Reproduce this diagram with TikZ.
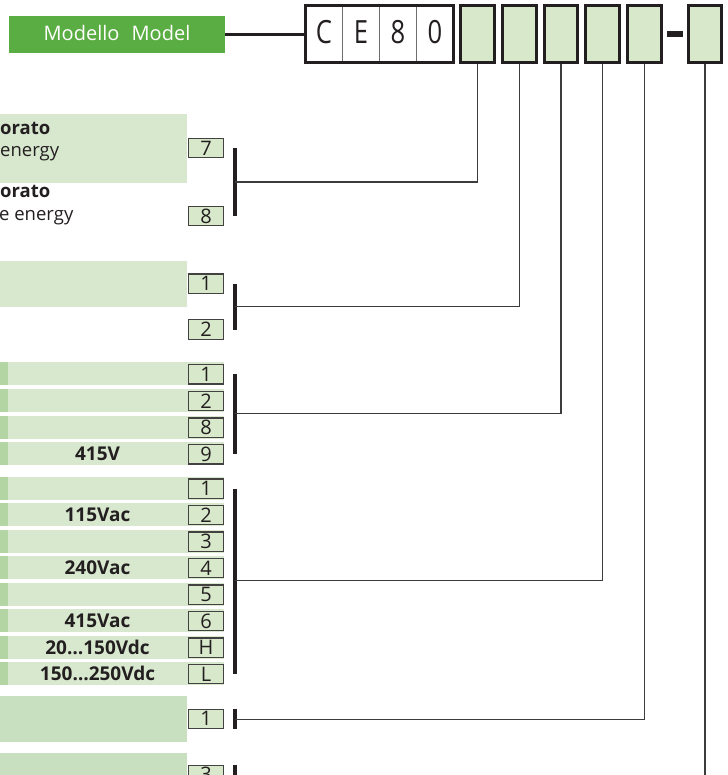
\documentclass[tikz,border=0pt]{standalone}
\usepackage{fontspec}
\setmainfont{Open Sans}
\newfontfamily\medfont{Open Sans}
\newfontfamily\codefont[FakeStretch=0.8]{Open Sans}
\definecolor{bandgreen}{HTML}{D8E8CF}
\definecolor{stripgreen}{HTML}{B3D5A4}
\definecolor{bandgreenB}{HTML}{C8E0C0}
\definecolor{boxgreen}{HTML}{D7E8CB}
\definecolor{modelgreen}{HTML}{5AAD42}
\definecolor{ink}{HTML}{231F20}
\definecolor{linegray}{HTML}{3C3C3C}
\definecolor{cellgray}{HTML}{6E6E6E}
\tikzset{
  conn/.style={draw=linegray, line width=1.2pt},
  brace/.style={draw=ink, line width=4pt},
  codebox/.style={draw=ink, line width=3pt, fill=boxgreen, minimum width=33.7pt, minimum height=57pt, inner sep=0pt},
  cell/.style={draw=cellgray, line width=0.9pt, fill=white, minimum width=37pt, minimum height=57pt, inner sep=0pt, text depth=4pt, font=\codefont\fontsize{32}{32}\selectfont, text=ink},
  lab/.style={draw=ink!85, line width=1.2pt, fill=boxgreen, minimum width=35.4pt, minimum height=19.3pt, inner sep=0pt, font=\medfont\fontsize{20}{20}\selectfont, text=ink},
  rowtxt/.style={font=\bfseries\fontsize{19}{19}\selectfont, text=ink, inner sep=0pt},
  desc/.style={font=\medfont\fontsize{18.5}{18.5}\selectfont, text=ink, anchor=base west, inner sep=0pt},
  descb/.style={desc, font=\bfseries\fontsize{18.5}{18.5}\selectfont},
}
\begin{document}
\begin{tikzpicture}[x=1pt,y=-1pt]
\useasboundingbox (0,0) rectangle (727,775);

% ---------- header ----------
\node[fill=modelgreen, minimum width=216pt, minimum height=37.3pt, inner sep=0pt, text=white,
      text depth=3pt, font=\medfont\fontsize{20}{20}\selectfont] (model) at (117,34.6) {Modello \hspace{7pt}Model};

\node[cell] (cC) at (324,34) {C};
\node[cell] (cE) at (361,34) {E};
\node[cell] (c8) at (398,34) {8};
\node[cell] (c0) at (435,34) {0};
\draw[ink, line width=3pt] (cC.north west) rectangle (c0.south east);

\draw[ink, line width=2.2pt] (model.east) -- (model.east -| cC.west);

\node[codebox] (k1) at (477.7,34) {};
\node[codebox] (k2) at (519.2,34) {};
\node[codebox] (k3) at (561,34) {};
\node[codebox] (k4) at (602.4,34) {};
\node[codebox] (k5) at (644.2,34) {};
\node[fill=ink, minimum width=16pt, minimum height=5.7pt, inner sep=0pt] (dash) at (674.7,33.9) {};
\node[codebox] (k6) at (705,34) {};

% ---------- group 1 ----------
\fill[bandgreen] (0,114) rectangle (186.7,182.7);
\node[descb] (g1a1) at (0,134.5) {orato};
\node[desc]  (g1a2) at (0,156.5) {energy};
\node[descb] (g1b1) at (0,198) {orato};
\node[desc]  (g1b2) at (-1,221) {e energy};
\node[lab] (l1a) at (206,148) {7};
\node[lab] (l1b) at (206,216) {8};
\draw[brace] ([xshift=11pt]l1a.east) -- ([xshift=11pt]l1b.east);
\coordinate (m1) at (235,182);
\draw[conn] (m1) -| (k1.south);

% ---------- group 2 ----------
\fill[bandgreen] (0,261) rectangle (186.7,306.7);
\node[lab] (l2a) at (206,283.7) {1};
\node[lab] (l2b) at (206,329.5) {2};
\draw[brace] ([xshift=11pt]l2a.east) -- ([xshift=11pt]l2b.east);
\coordinate (m2) at (235,306.6);
\draw[conn] (m2) -| (k2.south);

% ---------- group 3 ----------
\foreach \t/\l/\s [count=\i] in {362.3/1/{}, 389/2/{}, 415.6/8/{}, 442.3/9/{415V}}{
  \fill[stripgreen] (0,\t) rectangle (8,\t+23);
  \fill[bandgreen] (8,\t) rectangle (224,\t+23);
  \node[rowtxt] (r3-\i) at (97.5,\t+11.5) {\s};
  \node[lab] (b3-\i) at (206,\t+12) {\l};
}
\draw[brace] ([xshift=11pt]b3-1.east) -- ([xshift=11pt]b3-4.east);
\coordinate (m3) at (235,413.3);
\draw[conn] (m3) -| (k3.south);

% ---------- group 4 ----------
\foreach \t/\l/\s [count=\i] in {476.7/1/{}, 503.2/2/{115Vac}, 529.7/3/{}, 556.2/4/{240Vac},
    582.7/5/{}, 609.2/6/{415Vac}, 635.7/H/{20…150Vdc}, 662.2/L/{150…250Vdc}}{
  \fill[stripgreen] (0,\t) rectangle (8,\t+23);
  \fill[bandgreen] (8,\t) rectangle (224,\t+23);
  \node[rowtxt] (r4-\i) at (97.5,\t+11.5) {\s};
  \node[lab] (b4-\i) at (206,\t+12) {\l};
}
\draw[brace] ([xshift=11pt]b4-1.east) -- ([xshift=11pt]b4-8.east);
\coordinate (m4) at (235,580.7);
\draw[conn] (m4) -| (k4.south);

% ---------- group 5 ----------
\fill[bandgreenB] (0,696) rectangle (186.7,741.7);
\node[lab] (l5) at (206,718.8) {1};
\draw[brace] ([xshift=11pt]l5.north east) -- ([xshift=11pt]l5.south east);
\coordinate (m5) at (235,719.5);
\draw[conn] (m5) -| (k5.south);

% ---------- group 6 ----------
\fill[bandgreenB] (0,752.7) rectangle (186.7,790);
\node[lab] (l6) at (206,774.8) {3};
\draw[brace] ([xshift=11pt]l6.north east) -- ([xshift=11pt]l6.south east);
\coordinate (e6) at (705,790);
\draw[conn] (k6.south) -- (e6);
\end{tikzpicture}
\end{document}
